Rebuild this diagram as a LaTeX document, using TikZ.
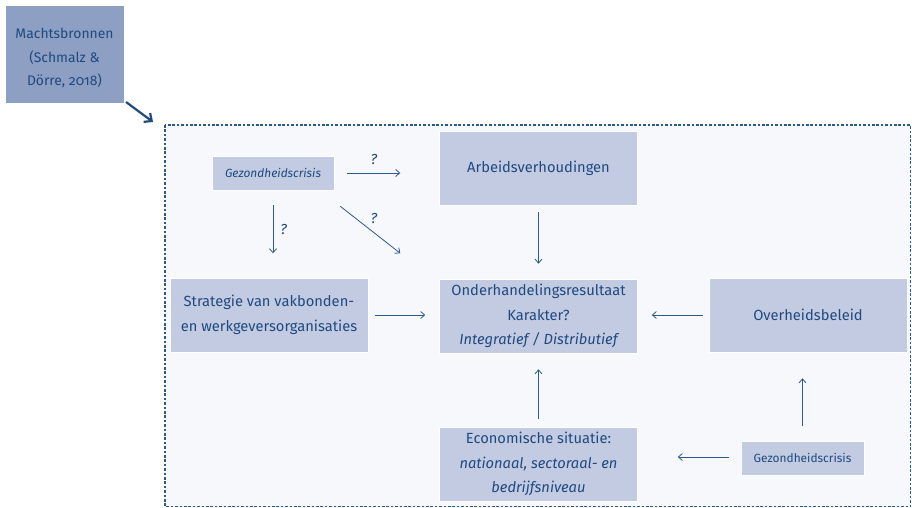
\documentclass[tikz,border=0pt]{standalone}
\usepackage{fontspec}
\setmainfont{Fira Sans}[Numbers=OldStyle]
\usetikzlibrary{arrows.meta}
\definecolor{ink}{HTML}{1F4A7F}
\definecolor{linkc}{HTML}{2D5A8E}
\definecolor{boxfill}{HTML}{C3CBE3}
\definecolor{topfill}{HTML}{8E9FC4}
\definecolor{framefill}{HTML}{F6F8FB}
\begin{document}
\begin{tikzpicture}[x=1pt,y=-1pt,
  factor/.style={fill=boxfill, draw=white, line width=0.6pt, text=ink,
    align=center, inner sep=0pt, font=\fontsize{14.7}{24.5}\selectfont},
  smallfactor/.style={factor, font=\fontsize{11.9}{14}\selectfont},
  link/.style={draw=linkc, line width=0.8pt, -{Straight Barb[length=4pt,width=7pt]}},
  qmark/.style={text=ink, font=\itshape\fontsize{14.5}{16}\selectfont, inner sep=0pt}]
\useasboundingbox (0,0) rectangle (912,508);
% outer framework
\draw[fill=framefill, draw=linkc, line width=1.3pt, dash pattern=on 2.6pt off 1.8pt]
  (165,125) rectangle (910.5,506.5);
% source box, its caption and its arrow
\node[factor, fill=topfill, minimum width=119pt, minimum height=98pt] (src) at (64.5,54) {};
\node[text=ink, align=center, inner sep=0pt, font=\fontsize{13.9}{23.5}\selectfont]
  (srctext) at ([yshift=-4pt]src.center) {Machtsbronnen\\(Schmalz \&\\Dörre, 2018)};
\coordinate (srcc) at (126,102);
\coordinate (framec) at (153,122);
\draw[draw=ink, line width=2.2pt, -{Straight Barb[length=6pt,width=11pt]}] (srcc) -- (framec);
% factors
\node[smallfactor, minimum width=122pt, minimum height=34pt] (crisis1) at (273,173)
  {\itshape Gezondheidscrisis};
\node[factor, minimum width=198pt, minimum height=74pt] (arb) at (538.5,168)
  {Arbeidsverhoudingen};
\node[factor, minimum width=198pt, minimum height=74pt] (strat) at (269,315)
  {Strategie van vakbonden-\\en werkgeversorganisaties};
\node[factor, minimum width=198pt, minimum height=74pt] (res) at (538.5,316)
  {Onderhandelingsresultaat\\Karakter?\\\itshape Integratief / Distributief};
\node[factor, minimum width=198pt, minimum height=74pt] (gov) at (808,315)
  {Overheidsbeleid};
\node[factor, minimum width=198pt, minimum height=74pt] (eco) at (538.5,464)
  {Economische situatie:\\\itshape nationaal, sectoraal- en\\\itshape bedrijfsniveau};
\node[smallfactor, minimum width=123pt, minimum height=34pt] (crisis2) at (802.5,458)
  {Gezondheidscrisis};
% connectors (canvas shifts: positive yshift points up)
\draw[link] ([xshift=13pt]crisis1.east) -- node[qmark, above=8pt] {?} ([xshift=66pt]crisis1.east);
\draw[link] ([yshift=-15pt]crisis1.south) -- node[qmark, right=7pt] {?} ([yshift=-63pt]crisis1.south);
\draw[link] ([xshift=6pt,yshift=-16pt]crisis1.south east) -- node[qmark, above right=3pt, pos=0.45] {?} ([xshift=66pt,yshift=-63pt]crisis1.south east);
\draw[link] ([yshift=-7pt]arb.south) -- ([yshift=15pt]res.north);
\draw[link] ([xshift=7pt]strat.east) -- ([xshift=-14pt]res.west |- strat.east);
\draw[link] ([xshift=-6pt]gov.west) -- ([xshift=14pt]res.east |- gov.west);
\draw[link] ([yshift=8pt]eco.north) -- ([yshift=-16pt]res.south);
\draw[link] ([xshift=-12pt,yshift=1pt]crisis2.west) -- ([xshift=40pt,yshift=1pt]eco.east |- crisis2.west);
\draw[link] ([yshift=15pt]crisis2.north) -- ([yshift=-26pt]gov.south -| crisis2.north);
\end{tikzpicture}
\end{document}
